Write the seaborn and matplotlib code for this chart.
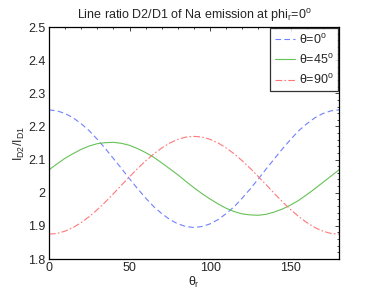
import numpy as np
import pandas as pd
import seaborn as sns
import matplotlib
matplotlib.use("Agg")
import matplotlib.pyplot as plt
from matplotlib.ticker import MultipleLocator

# values, every 5 degrees of theta_r
theta_r = list(range(0, 181, 5))
ratio_0 = [2.250, 2.247, 2.239, 2.226, 2.208, 2.187, 2.161, 2.133, 2.103, 2.073,
           2.042, 2.012, 1.984, 1.958, 1.937, 1.919, 1.906, 1.898, 1.895,
           1.898, 1.906, 1.919, 1.937, 1.958, 1.984, 2.012, 2.042, 2.073,
           2.103, 2.133, 2.161, 2.187, 2.208, 2.226, 2.239, 2.247, 2.250]
ratio_45 = [2.069, 2.087, 2.104, 2.118, 2.131, 2.141, 2.148, 2.151, 2.152, 2.149,
            2.143, 2.133, 2.121, 2.107, 2.090, 2.072, 2.054, 2.034, 2.015,
            1.997, 1.981, 1.966, 1.953, 1.943, 1.936, 1.933, 1.932, 1.935,
            1.942, 1.951, 1.963, 1.977, 1.994, 2.012, 2.031, 2.050, 2.069]
ratio_90 = [1.875, 1.877, 1.884, 1.895, 1.910, 1.928, 1.949, 1.972, 1.997, 2.023,
            2.048, 2.073, 2.096, 2.117, 2.135, 2.150, 2.161, 2.168, 2.170,
            2.168, 2.161, 2.150, 2.135, 2.117, 2.096, 2.073, 2.048, 2.023,
            1.997, 1.972, 1.949, 1.928, 1.910, 1.895, 1.884, 1.877, 1.875]
labels = [r'$\theta$=0$^{\rm o}$', r'$\theta$=45$^{\rm o}$', r'$\theta$=90$^{\rm o}$']
colors = ['#7080ff', '#66c255', '#ff7878']
styles = [(0, (5, 3)), '-', (0, (6, 2, 1.5, 2))]

sns.set_style("white")
plt.rcParams['font.family'] = ['Liberation Sans', 'DejaVu Sans']
plt.rcParams['mathtext.fontset'] = 'custom'
plt.rcParams['mathtext.rm'] = 'Liberation Sans'
plt.rcParams['mathtext.it'] = 'Liberation Sans'

fig = plt.figure(figsize=(3.74, 2.91), dpi=100)
ax = fig.add_axes([49 / 374, 1 - 259 / 291, 290 / 374, 232 / 291])

for y, lab, c, ls in zip([ratio_0, ratio_45, ratio_90], labels, colors, styles):
    df = pd.DataFrame({'theta': theta_r, 'ratio': y})
    sns.lineplot(data=df, x='theta', y='ratio', ax=ax, color=c, linestyle=ls,
                 linewidth=0.8, label=lab)

ax.set_xlim(0, 180)
ax.set_ylim(1.8, 2.5)
ax.xaxis.set_major_locator(MultipleLocator(50))
ax.xaxis.set_minor_locator(MultipleLocator(10))
ax.yaxis.set_minor_locator(MultipleLocator(0.02))
ax.set_yticks([1.8, 1.9, 2.0, 2.1, 2.2, 2.3, 2.4, 2.5])
ax.set_yticklabels(['1.8', '1.9', '2', '2.1', '2.2', '2.3', '2.4', '2.5'])
ax.tick_params(which='both', direction='in', top=True, right=True,
               labelsize=9, width=0.6)
ax.tick_params(which='major', length=3, pad=2.5)
ax.tick_params(which='minor', length=1.5)
for s in ax.spines.values():
    s.set_linewidth(0.9)
    s.set_color('black')

ax.set_xlabel(r'$\theta_{\rm r}$', fontsize=9, labelpad=0)
ax.set_ylabel(r'I$_{\rm D2}$/I$_{\rm D1}$', fontsize=9, labelpad=1)
ax.set_title(r'Line ratio D2/D1 of Na emission at phi$_{\rm r}$=0$^{\rm o}$',
             fontsize=9, pad=6)

leg = ax.legend(loc='upper right', fontsize=9, frameon=True, fancybox=False,
                edgecolor='black', handlelength=1.6, handletextpad=0.3,
                borderaxespad=0.1, labelspacing=0.5, borderpad=0.35)
leg.get_frame().set_linewidth(0.9)

fig.savefig('out.png', dpi=100)
